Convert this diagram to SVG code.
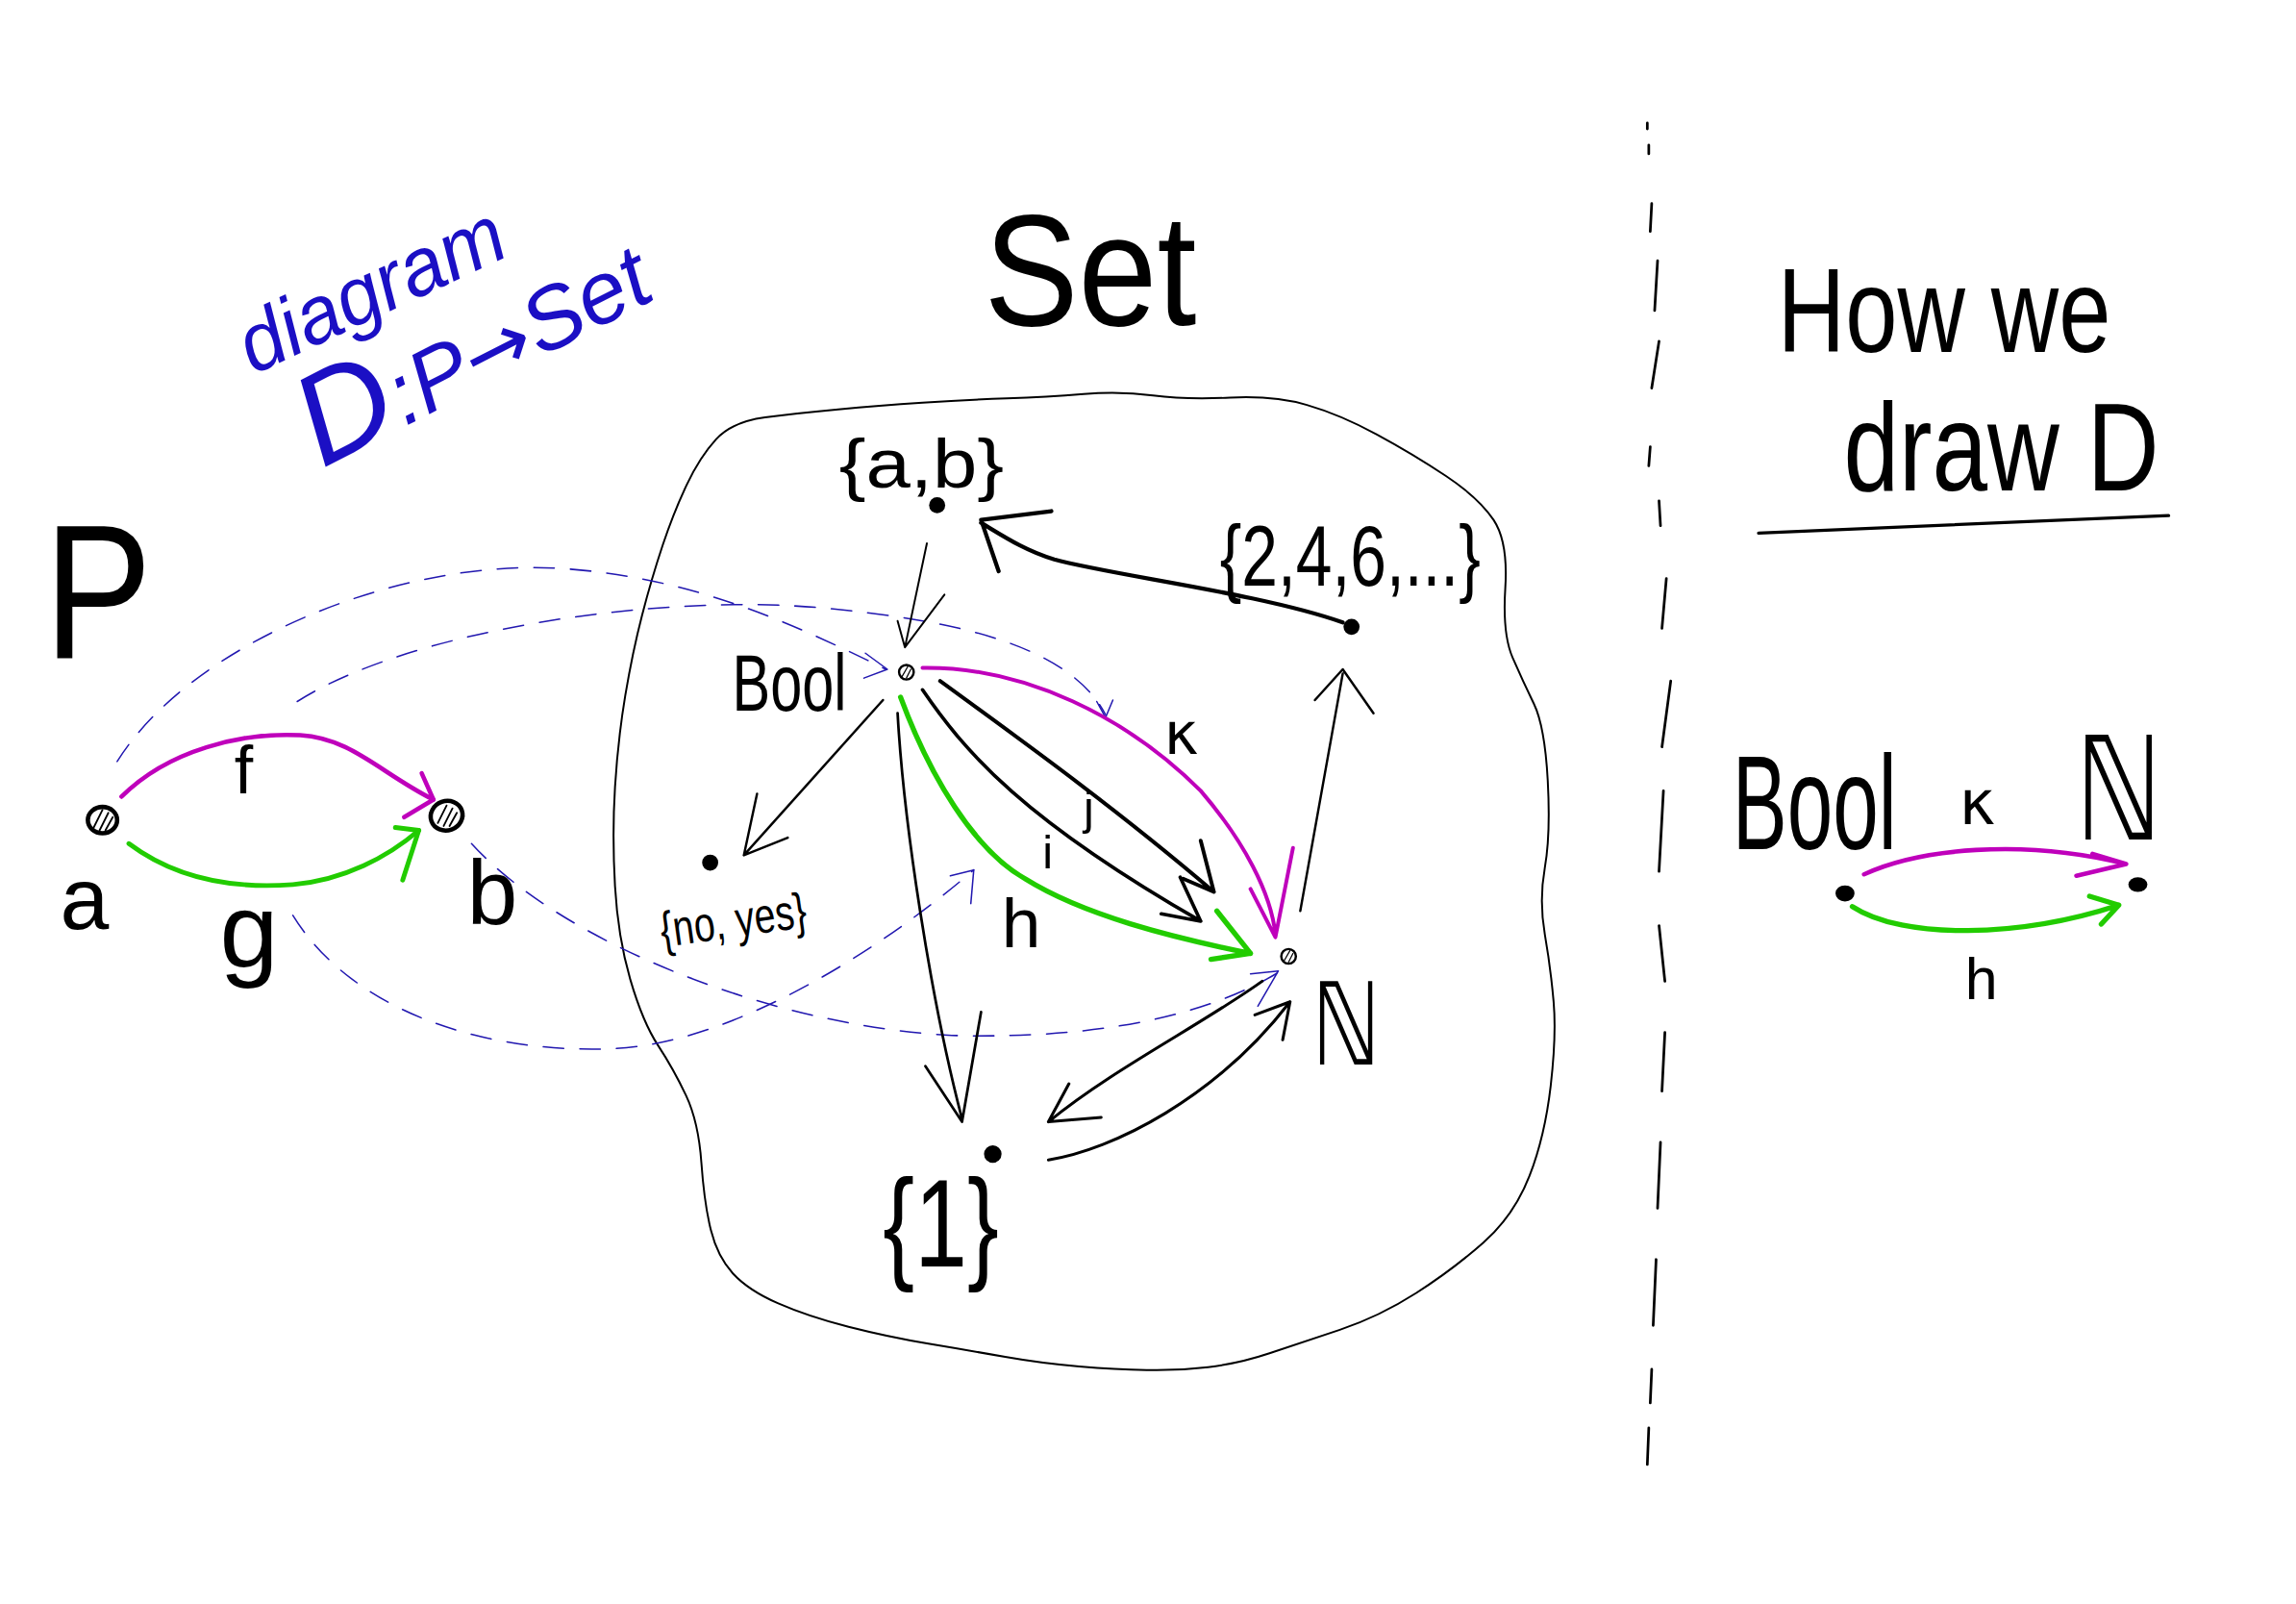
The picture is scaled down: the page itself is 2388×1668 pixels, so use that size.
<svg xmlns="http://www.w3.org/2000/svg" width="2388" height="1668" viewBox="0 0 2388 1668">
<style>
.ink{fill:none;stroke:#000;stroke-linecap:round;stroke-linejoin:round}
.mag{fill:none;stroke:#bf00bb;stroke-linecap:round;stroke-linejoin:round}
.grn{fill:none;stroke:#22cc00;stroke-linecap:round;stroke-linejoin:round}
.dash{fill:none;stroke:#2218b0;stroke-width:1;stroke-dasharray:14 11;stroke-linecap:round}
.bluehead{fill:none;stroke:#2218b0;stroke-width:1;stroke-linecap:round;stroke-linejoin:round}
.t{font-family:"Liberation Sans",Arial,sans-serif;fill:#000}
.dj{font-family:"DejaVu Sans","Liberation Sans",sans-serif;fill:#000}
.blue{font-family:"Liberation Sans",Arial,sans-serif;fill:#1b0fc4;font-style:italic}
.dot{fill:#000}
.hatch{fill:#fff;stroke:#000}
</style>
<rect width="2388" height="1668" fill="#fff"/>
<g transform="scale(1.52296)">
  <!-- Set blob -->
  <path id="set-blob" class="ink" stroke-width="1.3" d="M489,300 Q500,288 522.5,285 Q545,282 572.5,279.5 Q600,277 630,275 Q660,273 687.5,272 Q715,271 740,269 Q765,267 787.5,270 Q810,273 840,271.5 Q870,270 892.5,276.5 Q915,283 940,296.5 Q965,310 987.5,325 Q1010,340 1020,355 Q1030,370 1028,401.5 Q1026,433 1033,449 Q1040,465 1047.5,480.5 Q1055,496 1057,533 Q1059,570 1055,592.5 Q1051,615 1055,638 Q1059,661 1061,684 Q1063,707 1059,741.5 Q1055,776 1044.5,803 Q1034,830 1013,848.5 Q992,867 967,883 Q942,899 915,908 Q888,917 867,924 Q846,931 825,933.5 Q804,936 783,935.5 Q762,935 737,933 Q712,931 686.5,926.5 Q661,922 634,917.5 Q607,913 579.5,906 Q552,899 531.5,890 Q511,881 500.5,869.5 Q490,858 485.5,840 Q481,822 479,794 Q477,766 468.5,748 Q460,730 449.5,714 Q439,698 430.5,669 Q422,640 420,605 Q418,570 420,537.5 Q422,505 427,475 Q432,445 438.5,420 Q445,395 452.5,372.5 Q460,350 469,331 Q478,312 489,300 Z"/>

  <!-- titles -->
  <text class="t" transform="translate(672,222) scale(0.895,1)" font-size="108">Set</text>
  <text class="t" transform="translate(30,449) scale(0.85,1)" font-size="130">P</text>
  <text class="blue" transform="translate(173,256) rotate(-25)" font-size="56" textLength="195" lengthAdjust="spacingAndGlyphs">diagram</text>
  <text class="blue" transform="translate(220,320) rotate(-27)"><tspan font-size="88">D</tspan><tspan font-size="60">:P</tspan><tspan font-size="56" font-family="DejaVu Sans" font-style="normal">→</tspan><tspan font-size="60">Set</tspan></text>

  <!-- separator -->
  <path id="separator" class="ink" stroke-width="1.8" d="M1125,84 L1125,88 M1126,99 L1126,105 M1128,139 L1127,158 M1132,178 L1130,212 M1133,233 L1128,265 M1127,305 L1126,318 M1133,342 L1134,359 M1138,395 L1135,429 M1141,465 L1135,510 M1136,540 L1133,595 M1133,632 L1137,670 M1137,705 L1135,745 M1134,780 L1132,825 M1131,860 L1129,905 M1128,935 L1127,958 M1126,975 L1125,1000"/>

  <!-- right panel heading -->
  <text class="t" transform="translate(1214,240) scale(0.78,1)" font-size="82">How we</text>
  <text class="t" transform="translate(1259,335) scale(0.8,1)" font-size="85">draw D</text>
  <path class="ink" stroke-width="2.2" d="M1201,364 L1481,352"/>

  <!-- connectors -->
  <g id="connectors">
    <!-- P: f and g -->
    <path class="mag" stroke-width="3" d="M83,544 C115,512 165,500 205,502 C240,504 260,528 296,546"/>
    <path class="mag" stroke-width="3" d="M288,528 L296,546 L276,558"/>
    <path class="grn" stroke-width="3.2" d="M88,576 C120,600 160,607 200,604 C235,601 265,585 286,567"/>
    <path class="grn" stroke-width="3.2" d="M270,565 L286,567 L275,601"/>

    <!-- functor mapping (blue dashed) -->
    <path class="dash" d="M80,520 C130,440 270,382 380,388 C470,393 540,425 605,457"/>
    <path class="bluehead" d="M591,446 L606,457 L590,463"/>
    <path class="dash" d="M203,479 C280,430 450,405 560,415 C650,423 730,440 755,488"/>
    <path class="bluehead" d="M749,479 L755,490 L760,478"/>
    <path class="dash" d="M322,576 C380,640 520,700 650,707 C760,710 830,690 873,664"/>
    <path class="bluehead" d="M854,665 L873,663 L859,687"/>
    <path class="dash" d="M200,625 C240,690 330,720 420,716 C500,712 600,650 665,594"/>
    <path class="bluehead" d="M649,598 L665,594 L663,617"/>

    <!-- Set arrows -->
    <path class="ink" stroke-width="1.3" d="M633,371 L618,442 M613,424 L618,442 L645,406"/>
    <path class="ink" stroke-width="2.8" d="M917,425 C860,405 760,393 720,382 C700,376 685,366 670,357 M718,349 L670,355 L682,390"/>
    <path class="ink" stroke-width="1.6" d="M888,622 L917,460 M898,478 L917,457 L938,487"/>
    <path class="ink" stroke-width="1.6" d="M603,478 L508,584 M517,542 L508,584 L538,572"/>
    <path class="ink" stroke-width="1.8" d="M613,487 C617,560 635,680 657,764 M632,728 L657,766 L670,691"/>
    <path class="ink" stroke-width="2" d="M862,670 C820,700 760,730 716,766 M730,740 L716,766 L752,763"/>
    <path class="ink" stroke-width="2" d="M716,792 C760,785 830,750 881,684 M857,693 L881,684 L876,710"/>
    <path class="ink" stroke-width="2.6" d="M642,465 C690,500 760,550 829,609 M820,574 L829,609 L808,600"/>
    <path class="ink" stroke-width="2.4" d="M630,471 C660,515 700,560 820,629 M806,599 L820,629 L793,624"/>
    <path class="grn" stroke-width="3.5" d="M615,476 C635,530 665,580 700,600 C740,625 800,640 854,651 M831,622 L854,651 L827,655"/>
    <path class="mag" stroke-width="2.6" d="M630,456 C700,455 770,490 820,540 C850,575 868,610 871,638 M854,607 L871,640 L883,579"/>

    <!-- right panel arrows -->
    <path class="mag" stroke-width="3" d="M1273,597 C1310,580 1380,572 1452,590 M1429,583 L1452,590 L1418,598"/>
    <path class="grn" stroke-width="3.5" d="M1265,619 C1300,642 1380,640 1447,618 M1427,612 L1447,618 L1435,631"/>
  </g>

  <!-- edge labels -->
  <text class="t" x="160" y="542" font-size="46">f</text>
  <text class="t" x="150" y="660" font-size="72">g</text>
  <text class="dj" x="795" y="515" font-size="40">κ</text>
  <text class="t" x="740" y="563" font-size="32">j</text>
  <text class="t" x="712" y="593" font-size="32">i</text>
  <text class="t" x="684" y="647" font-size="48">h</text>
  <text class="dj" x="1338" y="563" font-size="42">κ</text>
  <text class="t" x="1342" y="682" font-size="40">h</text>

  <!-- nodes: P -->
  <g id="node-a">
    <ellipse class="hatch" cx="70" cy="560" rx="10" ry="9" stroke-width="3"/>
    <path class="ink" stroke-width="1.2" d="M64,565 L70,553 M68,567 L74,555 M72,567 L77,558"/>
    <text class="t" x="41" y="634" font-size="60">a</text>
  </g>
  <g id="node-b">
    <ellipse class="hatch" cx="305" cy="557" rx="11" ry="10" stroke-width="3" transform="rotate(-20 305 557)"/>
    <path class="ink" stroke-width="1.2" d="M299,562 L305,550 M303,564 L309,552 M307,564 L312,555"/>
    <text class="t" x="319" y="631" font-size="62">b</text>
  </g>

  <!-- nodes: Set -->
  <g id="node-ab">
    <circle class="dot" cx="640" cy="345" r="5.5"/>
    <text class="t" transform="translate(573,333) scale(1.14,1)" font-size="48">{a,b}</text>
  </g>
  <g id="node-evens">
    <circle class="dot" cx="923" cy="428" r="5.5"/>
    <text class="t" transform="translate(833,400) scale(0.767,1)" font-size="58">{2,4,6,...}</text>
  </g>
  <g id="node-bool">
    <circle class="hatch" cx="619" cy="459" r="5" stroke-width="1.6"/>
    <path class="ink" stroke-width="0.8" d="M616,462 L620,455 M619,463 L622,457"/>
    <text class="t" transform="translate(500,485) scale(0.71,1)" font-size="55">Bool</text>
  </g>
  <g id="node-noyes">
    <circle class="dot" cx="485" cy="589" r="5.5"/>
    <text class="t" transform="rotate(-8 500 625) translate(450,640) scale(0.76,1)" font-size="34">{no, yes}</text>
  </g>
  <g id="node-nat">
    <circle class="hatch" cx="880" cy="653" r="5" stroke-width="1.6"/>
    <path class="ink" stroke-width="0.8" d="M877,656 L881,649 M880,657 L883,651"/>
    <text class="dj" transform="translate(896,727) scale(0.75,1)" font-size="78">ℕ</text>
  </g>
  <g id="node-one">
    <circle class="dot" cx="678" cy="788" r="6"/>
    <text class="t" transform="translate(603,865) scale(0.76,1)" font-size="85">{1}</text>
  </g>

  <!-- nodes: right panel -->
  <g id="node-bool-r">
    <ellipse class="dot" cx="1260" cy="610" rx="6.5" ry="5.5"/>
    <text class="t" transform="translate(1183,580) scale(0.61,1)" font-size="92">Bool</text>
  </g>
  <g id="node-nat-r">
    <ellipse class="dot" cx="1460" cy="604" rx="6.5" ry="5"/>
    <text class="dj" transform="translate(1417,573) scale(0.76,1)" font-size="98">ℕ</text>
  </g>
</g>
</svg>
